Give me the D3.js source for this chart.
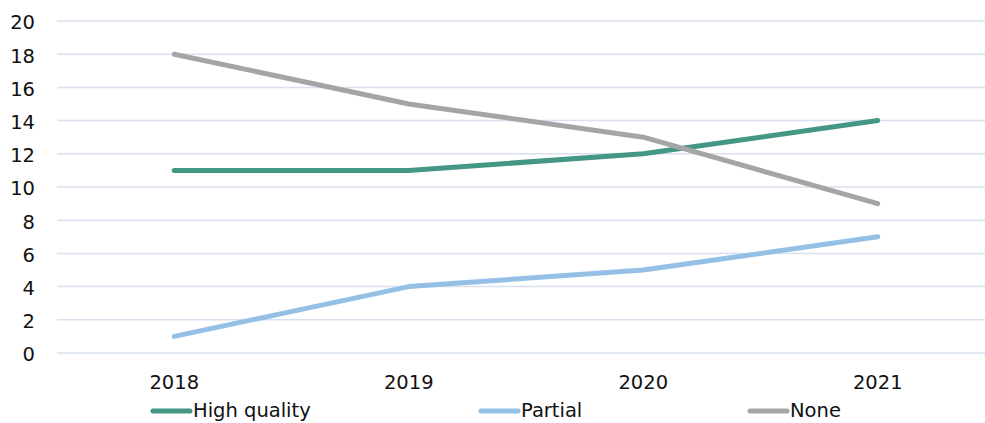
<!DOCTYPE html>
<html>
<head>
<meta charset="utf-8">
<script src="https://cdn.jsdelivr.net/npm/d3@7"></script>
<style>
  html, body { margin: 0; padding: 0; background: #fff; }
  svg { display: block; font-family: "DejaVu Sans", sans-serif; }
</style>
</head>
<body>
<svg id="chart" width="985" height="423"></svg>
<script>
// Years on the horizontal axis
const years = ["2018", "2019", "2020", "2021"];
// Counts per category and year
const highQuality = [11, 11, 12, 14];
const partial = [1, 4, 5, 7];
const none = [18, 15, 13, 9];
// Vertical axis ticks
const yTicks = [0, 2, 4, 6, 8, 10, 12, 14, 16, 18, 20];

const seriesNames = ["High quality", "Partial", "None"];
const seriesColors = ["#449685", "#95c0e6", "#a5a5a5"];
const series = [highQuality, partial, none].map((values, i) => ({
  name: seriesNames[i], color: seriesColors[i], values
}));

const svg = d3.select("#chart");
const plot = { left: 57, right: 995, top: 21, bottom: 353 };
const fontSize = 19.5;

const x = d3.scaleBand().domain(years).range([plot.left, plot.right]);
const y = d3.scaleLinear().domain([0, 20]).range([plot.bottom, plot.top]);

// Horizontal gridlines
svg.append("g").selectAll("line").data(yTicks).join("line")
  .attr("x1", plot.left).attr("x2", 985)
  .attr("y1", d => y(d)).attr("y2", d => y(d))
  .attr("stroke", "#d9e0f0").attr("stroke-width", 1.5);

// Y axis labels
const yAxis = svg.append("g").attr("transform", `translate(${plot.left},0)`)
  .call(d3.axisLeft(y).tickValues(yTicks).tickSize(0).tickPadding(22));
yAxis.select(".domain").remove();
yAxis.selectAll("text").attr("font-size", fontSize).attr("fill", "#111")
  .attr("dy", "0.4em")
  .attr("font-family", "DejaVu Sans, sans-serif");

// X axis labels
const xAxis = svg.append("g").attr("transform", `translate(0,${plot.bottom})`)
  .call(d3.axisBottom(x).tickSize(0).tickPadding(22));
xAxis.select(".domain").remove();
xAxis.selectAll("text").attr("font-size", fontSize).attr("fill", "#111")
  .attr("font-family", "DejaVu Sans, sans-serif");

// Series lines
const line = d3.line()
  .x((d, i) => x(years[i]) + x.bandwidth() / 2)
  .y(d => y(d));

svg.append("g").selectAll("path").data(series).join("path")
  .attr("d", d => line(d.values))
  .attr("fill", "none")
  .attr("stroke", d => d.color)
  .attr("stroke-width", 5)
  .attr("stroke-linecap", "round")
  .attr("stroke-linejoin", "round");

// Legend along the bottom edge
const legendX = [150, 478, 747];
const legend = svg.append("g").selectAll("g").data(series).join("g")
  .attr("transform", (d, i) => `translate(${legendX[i]},411)`);
legend.append("line")
  .attr("x1", 3).attr("x2", 40)
  .attr("stroke", d => d.color).attr("stroke-width", 5)
  .attr("stroke-linecap", "round");
legend.append("text")
  .attr("x", 43).attr("y", 6)
  .attr("font-size", fontSize).attr("fill", "#111")
  .text(d => d.name);
</script>
</body>
</html>
